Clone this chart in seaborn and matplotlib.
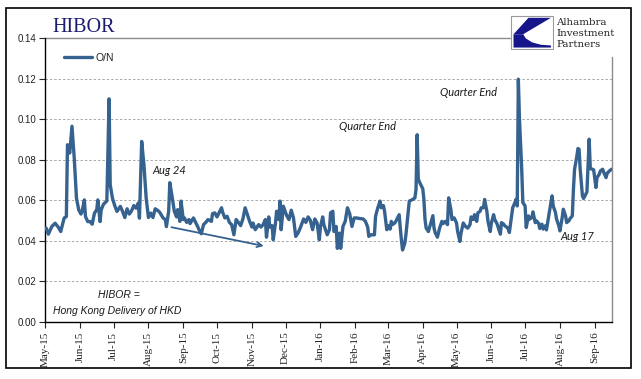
import numpy as np
import pandas as pd
import matplotlib
matplotlib.use('Agg')
import matplotlib.pyplot as plt
import matplotlib.dates as mdates
from matplotlib.patches import Rectangle, Polygon
import seaborn as sns

# ---------------- data ----------------
start_date = "2015-05-01"
series_name = "O/N"

# days since 2015-05-01
days = [1, 3, 6, 9, 12, 14, 17, 19, 20, 22, 24, 26, 28, 30, 32, 33, 35, 36, 38, 40,
        42, 44, 46, 47, 49, 50, 52, 55, 57, 58, 60, 62, 64, 67, 69, 71, 73, 75, 77, 79,
        81, 83, 84, 86, 88, 90, 92, 94, 96, 98,
        100, 102, 105, 107, 108, 110, 111, 113, 115, 117, 118, 120, 121, 123, 124, 126, 128, 129, 132, 134,
        136, 137, 139, 141, 143, 145, 148, 149, 151, 153, 155, 157, 158, 160, 162, 164, 166, 168, 170, 172,
        174, 176, 178, 180, 182, 184, 185, 187, 190, 192, 194, 196, 197, 199,
        200, 202, 203, 205, 206, 208, 209, 210, 212, 213, 215, 217, 219, 221, 223, 225, 227, 230, 232, 234,
        236, 238, 240, 242, 244, 245, 247, 248, 251, 253, 254, 256, 257, 259, 260, 262, 263, 265, 267, 269,
        271, 273, 275, 277, 280, 283, 285, 287, 288, 290, 293, 294, 296, 298, 299,
        301, 302, 304, 305, 307, 308, 309, 311, 312, 315, 316, 317, 318, 320, 321, 323, 324, 327, 329, 330,
        331, 332, 334, 336, 337, 338, 339, 341, 343, 345, 346, 347, 349, 351, 353, 354, 356, 358, 359, 361,
        362, 364, 366, 367, 369, 370, 372, 374, 376, 378, 379, 381, 382, 384, 385, 387, 388, 390, 391, 393,
        394, 396, 397, 399, 400,
        402, 405, 406, 408, 409, 411, 412, 413, 415, 416, 418, 419, 420, 421, 422, 424, 425, 427, 428, 430,
        431, 433, 434, 436, 437, 439, 440, 442, 443, 445, 446, 448, 449, 451, 452, 454, 455, 457, 458, 460,
        461, 463, 464, 466, 467, 469, 470, 471, 473, 474, 475, 476, 478, 479, 481, 482, 484, 485, 487, 488,
        490, 491, 493, 494, 496, 497, 499, 500, 502, 504]

rate = [.0463, .0433, .0470, .0487, .0466, .0446, .0512, .0520, .0874, .0833, .0965, .0808, .0610, .0553, .0532, .0545, .0602, .0520, .0495, .0495,
        .0482, .0537, .0553, .0602, .0495, .0553, .0580, .0597, .1100, .0677, .0610, .0574, .0545, .0570, .0545, .0515, .0558, .0532, .0548, .0574,
        .0561, .0586, .0512, .0890, .0775, .0610, .0515, .0537, .0515, .0558,
        .0551, .0541, .0513, .0505, .0470, .0546, .0687, .0620, .0546, .0518, .0554, .0496, .0596, .0505, .0513, .0491, .0505, .0485, .0513, .0491,
        .0468, .0455, .0435, .0480, .0491, .0505, .0496, .0534, .0538, .0518, .0541, .0563, .0541, .0513, .0521, .0491, .0480, .0430, .0505, .0491,
        .0475, .0508, .0563, .0530, .0496, .0468, .0488, .0455, .0480, .0468, .0480, .0505, .0418, .0518,
        .0468, .0475, .0405, .0488, .0546, .0505, .0596, .0455, .0571, .0554, .0524, .0505, .0551, .0513, .0422, .0438, .0463, .0508, .0491, .0518,
        .0501, .0455, .0508, .0488, .0405, .0471, .0518, .0480, .0430, .0455, .0538, .0546, .0446, .0471, .0363, .0438, .0363, .0471, .0496, .0563,
        .0534, .0471, .0513, .0513, .0510, .0508, .0496, .0468, .0422, .0430, .0430, .0521, .0563, .0596, .0563,
        .0574, .0546, .0455, .0475, .0458, .0496, .0480, .0488, .0496, .0529, .0463, .0405, .0355, .0388, .0430, .0538, .0596, .0604, .0612, .0654,
        .0923, .0704, .0679, .0657, .0604, .0505, .0463, .0446, .0485, .0524, .0463, .0441, .0418, .0463, .0496, .0485, .0496, .0480, .0612, .0554,
        .0505, .0513, .0488, .0446, .0397, .0438, .0488, .0471, .0463, .0480, .0518, .0505, .0529, .0496, .0538, .0546, .0563, .0563, .0604, .0546,
        .0496, .0446, .0488, .0529, .0505,
        .0485, .0433, .0490, .0482, .0474, .0466, .0458, .0441, .0523, .0564, .0589, .0605, .0572, .1197, .1000, .0753, .0589, .0572, .0466, .0523,
        .0507, .0515, .0543, .0490, .0499, .0487, .0461, .0482, .0458, .0474, .0454, .0523, .0556, .0622, .0572, .0540, .0507, .0474, .0449, .0515,
        .0556, .0523, .0490, .0499, .0510, .0523, .0655, .0753, .0816, .0855, .0852, .0753, .0622, .0609, .0630, .0641, .0901, .0756, .0753, .0750,
        .0663, .0712, .0729, .0745, .0753, .0737, .0712, .0733, .0745, .0753]

month_labels = ["May-15", "Jun-15", "Jul-15", "Aug-15", "Sep-15", "Oct-15", "Nov-15", "Dec-15",
                "Jan-16", "Feb-16", "Mar-16", "Apr-16", "May-16", "Jun-16", "Jul-16", "Aug-16", "Sep-16"]
y_ticks = [0.00, 0.02, 0.04, 0.06, 0.08, 0.10, 0.12, 0.14]
y_tick_labels = ["0.00", "0.02", "0.04", "0.06", "0.08", "0.10", "0.12", "0.14"]

# ---------------- style ----------------
sns.set_style("white")
plt.rcParams['font.family'] = ['Liberation Sans', 'DejaVu Sans']

LINE = '#36628f'
W, H = 641, 379

start = pd.Timestamp(start_date)
df = pd.DataFrame({'date': start + pd.to_timedelta(days, unit='D'),
                   'rate': rate,
                   'series': series_name})

fig = plt.figure(figsize=(W / 100, H / 100), dpi=100)
fig.patch.set_facecolor('white')
ax = fig.add_axes([45 / W, 1 - 322 / H, 567 / W, 284 / H])

for v in y_ticks[1:-1]:
    ax.axhline(v, color='#a9a9a9', lw=0.7, ls=(0, (2.5, 2)), zorder=0)

sns.lineplot(data=df, x='date', y='rate', hue='series', palette=[LINE],
             linewidth=2.4, ax=ax, zorder=3)

ax.set_ylim(0, 0.14)
ax.set_xlim(start, start + pd.Timedelta(days=504.3))
ax.set_yticks(y_ticks)
ax.set_yticklabels(y_tick_labels)
month_pos = pd.date_range(start_date, periods=len(month_labels), freq='MS')
ax.set_xticks(month_pos)
ax.set_xticklabels(month_labels, rotation=90, family=['Liberation Serif'], fontsize=8)
ax.set_xlabel('')
ax.set_ylabel('')
ax.tick_params(axis='y', left=True, length=4, width=0.8, pad=2, labelsize=7, labelcolor='#222222')
ax.tick_params(axis='x', bottom=True, length=4, width=0.8, pad=3, labelcolor='#222222')

for s in ['top', 'right']:
    ax.spines[s].set_visible(False)
for s in ['left', 'bottom']:
    ax.spines[s].set_color('black')
    ax.spines[s].set_linewidth(1.0)

# top rule (up to logo) and right rule (below logo)
ax.plot([0, (510 - 45) / 567], [1, 1], transform=ax.transAxes, color='#8c8c8c', lw=1.0, clip_on=False)
ax.plot([1, 1], [0, (322 - 57) / 284], transform=ax.transAxes, color='#8c8c8c', lw=1.0, clip_on=False)

# legend
leg = ax.legend(loc='upper left', bbox_to_anchor=((64 - 45) / 567, (322 - 53) / 284),
                frameon=False, handlelength=2.7, handletextpad=0.3, borderpad=0, borderaxespad=0,
                fontsize=7.5)
for t in leg.get_texts():
    t.set_color('#222222')

# arrow
def dnum(d):
    return mdates.date2num(start + pd.Timedelta(days=d))

ax.annotate('', xy=(dnum(197), 0.0372), xytext=(dnum(110), 0.0470),
            arrowprops=dict(arrowstyle='->', color=LINE, lw=1.3, mutation_scale=9), zorder=4)

# annotations (figure pixel positions)
def ftext(x, y, s, **kw):
    fig.text(x / W, 1 - y / H, s, **kw)

ann = dict(family=['Lato', 'DejaVu Sans'], style='italic', fontsize=8, color='#1a1a1a', va='center')
ftext(152, 170, 'Aug 24', **ann)
ftext(339, 126, 'Quarter End', **ann)
ftext(440, 92, 'Quarter End', **ann)
ftext(560, 236, 'Aug 17', **ann)
note = dict(family=['Liberation Sans', 'DejaVu Sans'], style='italic', fontsize=7.5, color='#1a1a1a', va='center')
ftext(98, 295, 'HIBOR =', **note)
ftext(53, 311, 'Hong Kong Delivery of HKD', **note)

# title
ftext(52, 31.5, 'HIBOR', family=['Liberation Serif'], fontsize=14.5, color='#1c1c6e', va='baseline')

# logo
lax = fig.add_axes([510 / W, 1 - 50 / H, 44 / W, 35 / H])
lax.set_xlim(0, 1)
lax.set_ylim(0, 1)
lax.axis('off')
lax.add_patch(Rectangle((0.02, 0.02), 0.96, 0.96, facecolor='white', edgecolor='#9a9a9a', lw=0.8))
lax.add_patch(Polygon([(0.42, 0.92), (0.93, 0.92), (0.30, 0.45), (0.08, 0.45)],
                      closed=True, facecolor='#16168a', edgecolor='none'))
lax.add_patch(Polygon([(0.08, 0.45), (0.30, 0.45), (0.36, 0.33), (0.50, 0.22), (0.70, 0.15),
                       (0.93, 0.13), (0.93, 0.07), (0.08, 0.07)],
                      closed=True, facecolor='#16168a', edgecolor='none'))
logo_font = dict(family=['DejaVu Serif'], fontsize=7.4, color='#222222', va='center')
ftext(556, 22.5, 'Alhambra', **logo_font)
ftext(556, 33.5, 'Investment', **logo_font)
ftext(556, 44.5, 'Partners', **logo_font)

# outer frame
fig.patches.append(Rectangle((6 / W, 1 - 368 / H), 625 / W, 360 / H, transform=fig.transFigure,
                             fill=False, edgecolor='black', lw=1.2))

fig.savefig('out.png', dpi=100, facecolor='white')
